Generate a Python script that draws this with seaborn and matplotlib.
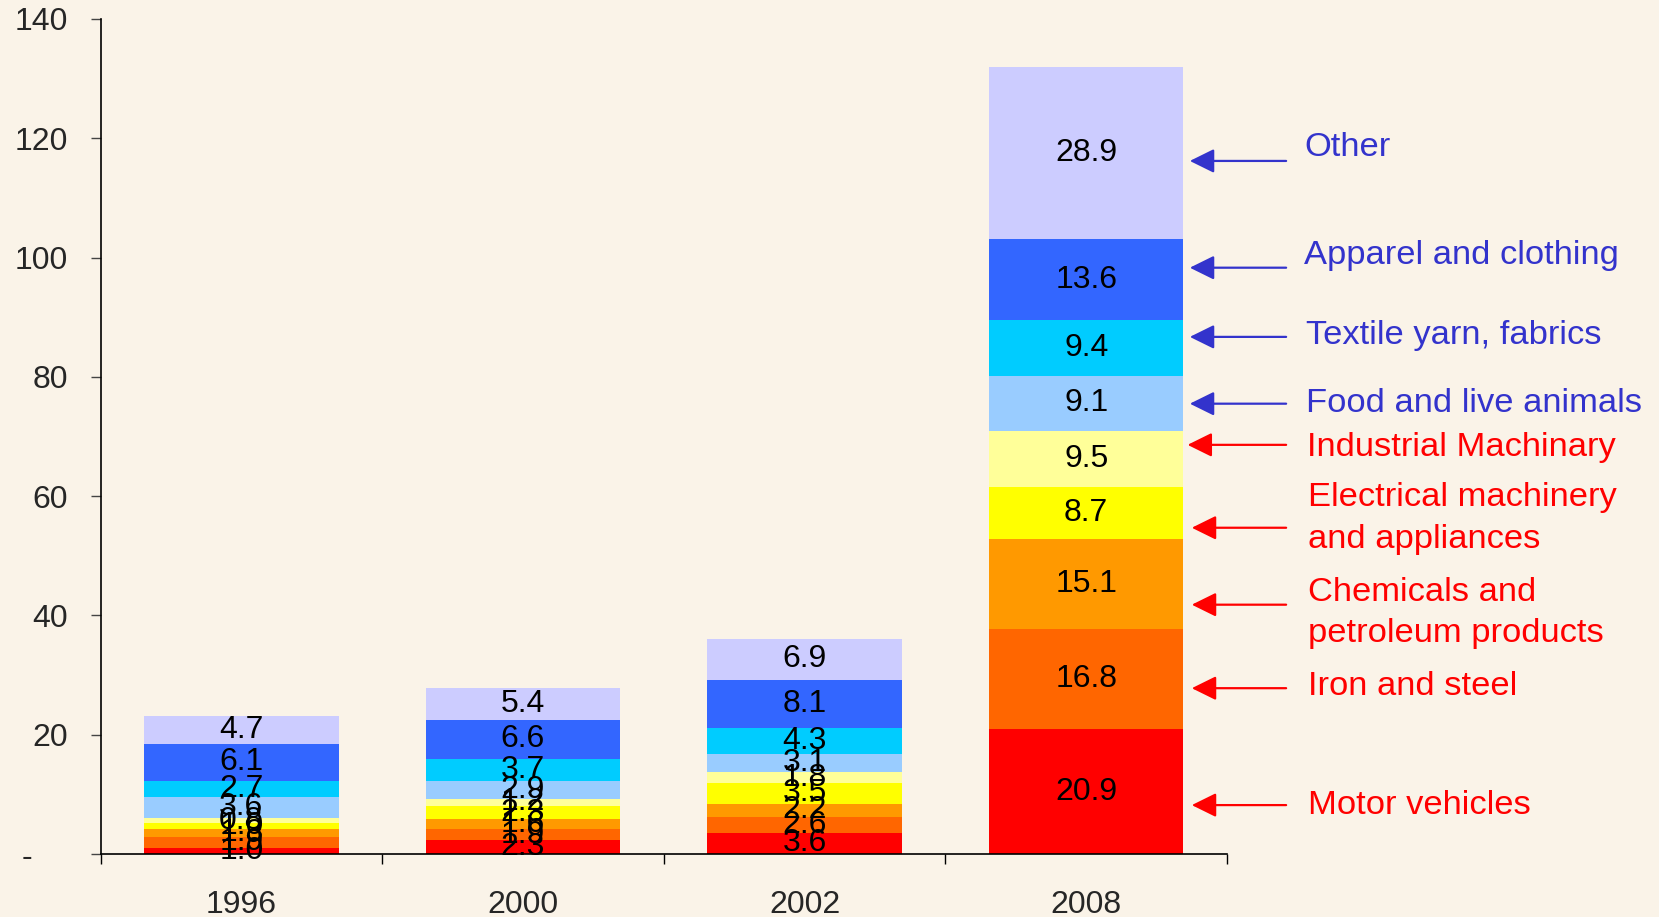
import matplotlib
matplotlib.use("Agg")
import matplotlib.pyplot as plt
import seaborn as sns
import numpy as np
import pandas as pd

# ---- data ----
years = ["1996", "2000", "2002", "2008"]
categories = ["Motor vehicles", "Iron and steel", "Chemicals and\npetroleum products",
              "Electrical machinery\nand appliances", "Industrial Machinary",
              "Food and live animals", "Textile yarn, fabrics",
              "Apparel and clothing", "Other"]
motor_vehicles = [1.0, 2.3, 3.6, 20.9]
iron_steel = [1.9, 1.9, 2.6, 16.8]
chemicals = [1.3, 1.6, 2.2, 15.1]
electrical = [1.0, 2.3, 3.5, 8.7]
industrial = [0.8, 1.2, 1.8, 9.5]
food = [3.6, 2.9, 3.1, 9.1]
textile = [2.7, 3.7, 4.3, 9.4]
apparel = [6.1, 6.6, 8.1, 13.6]
other = [4.7, 5.4, 6.9, 28.9]
series = [motor_vehicles, iron_steel, chemicals, electrical, industrial,
          food, textile, apparel, other]
yticks = [0, 20, 40, 60, 80, 100, 120, 140]
ytick_labels = ["-    ", "20", "40", "60", "80", "100", "120", "140"]

# ---- styles ----
colors = ["#FF0000", "#FF6600", "#FF9900", "#FFFF00", "#FFFF99",
          "#99CCFF", "#00CCFF", "#3366FF", "#CCCCFF"]
label_colors = ["#FF0000"] * 5 + ["#3333CC"] * 4
bg = "#FAF3E8"

sns.set_theme(style="white")
plt.rcParams["font.family"] = ["Liberation Sans", "DejaVu Sans"]

fig = plt.figure(figsize=(16.59, 9.17), dpi=100, facecolor=bg)
ax = fig.add_axes([0.0606, 0.0687, 0.7396 - 0.0606, 0.9793 - 0.0687])
ax.set_facecolor(bg)

df = pd.DataFrame({"year": years})
cum = np.cumsum(np.array(series), axis=0)  # shape (9, 4)

# draw from top-most cumulative to bottom so each layer covers the previous
for i in range(len(series) - 1, -1, -1):
    df["val"] = cum[i]
    sns.barplot(data=df, x="year", y="val", color=colors[i], saturation=1,
                width=0.69, linewidth=0, edgecolor="none", ax=ax, errorbar=None)

# segment labels
for i, s in enumerate(series):
    for j, v in enumerate(s):
        center = cum[i][j] - v / 2
        ax.text(j, center, f"{v:.1f}", ha="center", va="center",
                fontsize=23, color="black", zorder=5)

# annotations with arrows (layout positions in data coords)
ann_y_arrow = [8.2, 27.8, 41.8, 54.7, 68.6, 75.5, 86.7, 98.3, 116.2]
ann_y_text = [8.2, 28.0, 40.4, 56.3, 68.2, 75.6, 87.0, 100.4, 118.5]
tip_x = [3.375, 3.375, 3.375, 3.375, 3.36, 3.368, 3.368, 3.368, 3.368]
tail_x = 3.71
text_x = [3.787, 3.787, 3.787, 3.787, 3.785, 3.782, 3.782, 3.775, 3.775]
for i, name in enumerate(categories):
    ax.annotate("", xy=(tip_x[i], ann_y_arrow[i]), xytext=(tail_x, ann_y_arrow[i]),
                xycoords="data", textcoords="data", annotation_clip=False,
                arrowprops=dict(arrowstyle="-|>,head_length=0.75,head_width=0.37",
                                mutation_scale=20, color=label_colors[i], lw=1.6,
                                shrinkA=0, shrinkB=0))
    ax.text(text_x[i], ann_y_text[i], name, ha="left", va="center",
            fontsize=24.8, color=label_colors[i], linespacing=1.45, clip_on=False)

# axes
ax.set_xlim(-0.5, 3.5)
ax.set_ylim(0, 140)
ax.set_yticks(yticks)
ax.set_yticklabels(ytick_labels)
ax.set_xticks([-0.5, 0.5, 1.5, 2.5, 3.5])
ax.set_xticklabels([])
ax.set_xticks([0, 1, 2, 3], minor=True)
ax.set_xticklabels(years, minor=True)
ax.tick_params(axis="x", which="major", direction="out", length=7.5, width=1,
               color="black", bottom=True)
ax.tick_params(axis="x", which="minor", length=0, pad=26, labelsize=23)
ax.tick_params(axis="y", direction="out", length=7.5, width=1, color="#444444",
               pad=16, labelsize=23, left=True)
ax.set_xlabel("")
ax.set_ylabel("")
for side in ["top", "right"]:
    ax.spines[side].set_visible(False)
for side in ["left", "bottom"]:
    ax.spines[side].set_color("black")
    ax.spines[side].set_linewidth(1.2)
ax.grid(False)

fig.savefig("out.png", dpi=100, facecolor=bg)
